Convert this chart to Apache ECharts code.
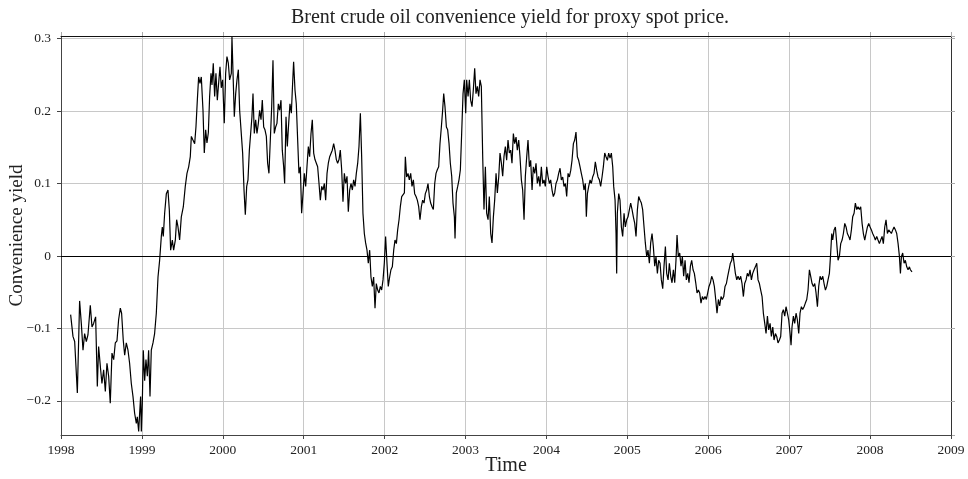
<!DOCTYPE html>
<html>
<head>
<meta charset="utf-8">
<script src="https://cdn.jsdelivr.net/npm/echarts@6/dist/echarts.min.js"></script>
<style>
  html, body { margin: 0; padding: 0; background: #fff; }
  #chart { width: 968px; height: 479px; }
</style>
</head>
<body>
<div id="chart"></div>
<script>
// Brent crude oil convenience yield (proxy spot price), sampled from the daily series
const years = [
  1998.119, 1998.148, 1998.169, 1998.202, 1998.230, 1998.251, 1998.272, 1998.292, 1998.313, 1998.333,
  1998.362, 1998.383, 1998.403, 1998.428, 1998.449, 1998.465, 1998.490, 1998.506, 1998.527, 1998.548,
  1998.568, 1998.589, 1998.609, 1998.630, 1998.651, 1998.671, 1998.692, 1998.712, 1998.733, 1998.749,
  1998.770, 1998.787, 1998.807, 1998.828, 1998.848, 1998.869, 1998.890, 1998.910, 1998.931, 1998.943,
  1998.960, 1998.972, 1998.984, 1998.993, 1999.005, 1999.017, 1999.034, 1999.050, 1999.067, 1999.083,
  1999.100, 1999.116, 1999.137, 1999.157, 1999.178, 1999.199, 1999.219, 1999.240, 1999.252, 1999.264,
  1999.281, 1999.302, 1999.322, 1999.339, 1999.355, 1999.376, 1999.392, 1999.413, 1999.429, 1999.446,
  1999.466, 1999.487, 1999.512, 1999.536, 1999.557, 1999.578, 1999.598, 1999.611, 1999.631, 1999.652,
  1999.668, 1999.685, 1999.701, 1999.718, 1999.734, 1999.755, 1999.771, 1999.788, 1999.804, 1999.821,
  1999.837, 1999.854, 1999.866, 1999.882, 1999.899, 1999.915, 1999.932, 1999.948, 1999.965, 1999.981,
  1999.998, 2000.018, 2000.035, 2000.051, 2000.068, 2000.084, 2000.105,
  2000.113, 2000.130, 2000.142, 2000.159, 2000.175, 2000.192, 2000.208, 2000.225, 2000.245, 2000.262,
  2000.278, 2000.295, 2000.311, 2000.328, 2000.344, 2000.360, 2000.373, 2000.389, 2000.406, 2000.422,
  2000.439, 2000.455, 2000.472, 2000.488, 2000.505, 2000.521, 2000.538, 2000.554, 2000.570, 2000.587,
  2000.604, 2000.620, 2000.636, 2000.653, 2000.669, 2000.686, 2000.702, 2000.719, 2000.735, 2000.752,
  2000.764, 2000.781, 2000.797, 2000.814, 2000.830, 2000.847, 2000.859, 2000.875, 2000.892, 2000.908,
  2000.925, 2000.941, 2000.958, 2000.974, 2000.991, 2001.007, 2001.024, 2001.040, 2001.057, 2001.073,
  2001.090, 2001.106, 2001.123, 2001.139, 2001.156, 2001.172, 2001.189, 2001.205, 2001.222, 2001.238,
  2001.255, 2001.271, 2001.288, 2001.304, 2001.321, 2001.337, 2001.353, 2001.370, 2001.386, 2001.403,
  2001.419, 2001.436, 2001.452, 2001.469, 2001.485, 2001.502, 2001.518, 2001.535, 2001.551, 2001.568,
  2001.584, 2001.601, 2001.617, 2001.634, 2001.650, 2001.667, 2001.683, 2001.700, 2001.716, 2001.732,
  2001.749, 2001.765, 2001.782, 2001.798, 2001.815, 2001.831, 2001.848, 2001.864, 2001.881, 2001.897,
  2001.914, 2001.930, 2001.947, 2001.963, 2001.980, 2001.996, 2002.012, 2002.029, 2002.045, 2002.062,
  2002.078, 2002.095,
  2002.112, 2002.128, 2002.145, 2002.161, 2002.178, 2002.194, 2002.211, 2002.227, 2002.244, 2002.256,
  2002.272, 2002.289, 2002.305, 2002.322, 2002.338, 2002.355, 2002.371, 2002.388, 2002.404, 2002.421,
  2002.437, 2002.454, 2002.470, 2002.487, 2002.503, 2002.520, 2002.536, 2002.553, 2002.569, 2002.586,
  2002.602, 2002.619, 2002.635, 2002.651, 2002.668, 2002.684, 2002.701, 2002.717, 2002.730, 2002.746,
  2002.763, 2002.779, 2002.796, 2002.812, 2002.829, 2002.845, 2002.862, 2002.870, 2002.886, 2002.903,
  2002.919, 2002.936, 2002.952, 2002.969, 2002.985, 2003.002, 2003.014, 2003.031, 2003.047, 2003.063,
  2003.080, 2003.096, 2003.113, 2003.129, 2003.146, 2003.162, 2003.179, 2003.195, 2003.212, 2003.228,
  2003.245, 2003.261, 2003.278, 2003.294, 2003.311, 2003.327, 2003.344, 2003.360, 2003.377, 2003.393,
  2003.410, 2003.426, 2003.443, 2003.459, 2003.475, 2003.492, 2003.508, 2003.525, 2003.541, 2003.558,
  2003.574, 2003.591, 2003.607, 2003.624, 2003.640, 2003.657, 2003.673, 2003.690, 2003.706, 2003.723,
  2003.739, 2003.756, 2003.772, 2003.789, 2003.805, 2003.822, 2003.838, 2003.855, 2003.871, 2003.887,
  2003.904, 2003.920, 2003.937, 2003.953, 2003.970, 2003.986, 2004.003, 2004.019, 2004.036, 2004.052,
  2004.069, 2004.085, 2004.102, 2004.118, 2004.135,
  2004.151, 2004.168, 2004.184, 2004.201, 2004.217, 2004.234, 2004.250, 2004.267, 2004.283, 2004.300,
  2004.316, 2004.333, 2004.349, 2004.365, 2004.382, 2004.398, 2004.415, 2004.431, 2004.448, 2004.464,
  2004.481, 2004.493, 2004.506, 2004.522, 2004.539, 2004.555, 2004.571, 2004.588, 2004.604, 2004.621,
  2004.637, 2004.654, 2004.670, 2004.687, 2004.703, 2004.720, 2004.736, 2004.753, 2004.769, 2004.786,
  2004.802, 2004.819, 2004.831, 2004.848, 2004.860, 2004.868, 2004.876, 2004.893, 2004.909, 2004.926,
  2004.942, 2004.959, 2004.975, 2004.992, 2005.008, 2005.025, 2005.041, 2005.058, 2005.074, 2005.091,
  2005.107, 2005.124, 2005.140, 2005.157, 2005.173, 2005.189, 2005.206, 2005.222, 2005.239, 2005.255,
  2005.272, 2005.288, 2005.305, 2005.321, 2005.338, 2005.354, 2005.371, 2005.387, 2005.404, 2005.420,
  2005.437, 2005.453, 2005.470, 2005.486, 2005.503, 2005.519, 2005.536, 2005.552, 2005.569, 2005.585,
  2005.601, 2005.614, 2005.630, 2005.647, 2005.663, 2005.680, 2005.696, 2005.713, 2005.729, 2005.746,
  2005.762, 2005.779, 2005.795, 2005.812, 2005.828, 2005.845, 2005.861, 2005.878, 2005.894, 2005.910,
  2005.927, 2005.943, 2005.960, 2005.976, 2005.993, 2006.009, 2006.026, 2006.042, 2006.059, 2006.075,
  2006.092, 2006.108, 2006.125, 2006.141, 2006.158, 2006.174,
  2006.191, 2006.207, 2006.224, 2006.240, 2006.257, 2006.273, 2006.290, 2006.302, 2006.319, 2006.335,
  2006.352, 2006.368, 2006.385, 2006.401, 2006.417, 2006.434, 2006.450, 2006.467, 2006.483, 2006.500,
  2006.516, 2006.533, 2006.549, 2006.566, 2006.582, 2006.599, 2006.615, 2006.632, 2006.648, 2006.665,
  2006.681, 2006.698, 2006.714, 2006.731, 2006.747, 2006.764, 2006.780, 2006.797, 2006.813, 2006.830,
  2006.846, 2006.862, 2006.879, 2006.895, 2006.912, 2006.928, 2006.945, 2006.961, 2006.978, 2006.994,
  2007.011, 2007.023, 2007.035, 2007.052, 2007.068, 2007.085, 2007.101, 2007.118, 2007.134, 2007.151,
  2007.167, 2007.184, 2007.200, 2007.217, 2007.233, 2007.250, 2007.266, 2007.283, 2007.299, 2007.316,
  2007.332, 2007.349, 2007.365, 2007.382, 2007.398, 2007.415, 2007.431, 2007.448, 2007.464, 2007.480,
  2007.497, 2007.513, 2007.526, 2007.538, 2007.555, 2007.571, 2007.588, 2007.604, 2007.621, 2007.637,
  2007.654, 2007.670, 2007.687, 2007.703, 2007.719, 2007.736, 2007.752, 2007.769, 2007.785, 2007.802,
  2007.818, 2007.835, 2007.851, 2007.868, 2007.884, 2007.901, 2007.917, 2007.934, 2007.950, 2007.967,
  2007.983, 2008.000, 2008.016, 2008.032, 2008.049, 2008.065, 2008.082, 2008.098, 2008.115, 2008.131,
  2008.148, 2008.164, 2008.181, 2008.197, 2008.214, 2008.230, 2008.247, 2008.263, 2008.280, 2008.296,
  2008.313, 2008.329, 2008.346, 2008.362, 2008.375, 2008.387, 2008.403, 2008.420, 2008.436, 2008.453,
  2008.469, 2008.486, 2008.498, 2008.518
];

const convenienceYield = [
  -0.081, -0.111, -0.118, -0.189, -0.062, -0.093, -0.130, -0.107, -0.118, -0.109,
  -0.068, -0.098, -0.093, -0.084, -0.180, -0.125, -0.157, -0.176, -0.157, -0.187,
  -0.148, -0.166, -0.203, -0.134, -0.143, -0.120, -0.117, -0.088, -0.072, -0.079,
  -0.117, -0.137, -0.120, -0.130, -0.148, -0.176, -0.194, -0.217, -0.231, -0.222,
  -0.242, -0.217, -0.194, -0.242, -0.203, -0.130, -0.172, -0.143, -0.166, -0.130,
  -0.194, -0.130, -0.120, -0.107, -0.079, -0.029, -0.006, 0.027, 0.040, 0.027,
  0.059, 0.086, 0.091, 0.063, 0.008, 0.022, 0.008, 0.022, 0.050, 0.040,
  0.022, 0.054, 0.068, 0.096, 0.114, 0.123, 0.137, 0.165, 0.160, 0.155,
  0.178, 0.215, 0.247, 0.238, 0.247, 0.201, 0.142, 0.174, 0.156, 0.170,
  0.220, 0.252, 0.236, 0.266, 0.220, 0.252, 0.215, 0.238, 0.261, 0.232,
  0.243, 0.183, 0.252, 0.275, 0.266, 0.243, 0.252,
  0.302, 0.238, 0.192, 0.224, 0.243, 0.257, 0.201, 0.174, 0.142, 0.091,
  0.057, 0.096, 0.105, 0.146, 0.169, 0.192, 0.224, 0.169, 0.188, 0.169,
  0.183, 0.201, 0.188, 0.215, 0.178, 0.174, 0.165, 0.128, 0.114, 0.160,
  0.206, 0.270, 0.169, 0.178, 0.183, 0.210, 0.201, 0.215, 0.146, 0.123,
  0.100, 0.192, 0.151, 0.183, 0.210, 0.197, 0.229, 0.268, 0.229, 0.210,
  0.160, 0.114, 0.123, 0.059, 0.086, 0.114, 0.096, 0.123, 0.151, 0.137,
  0.169, 0.188, 0.142, 0.133, 0.128, 0.123, 0.100, 0.077, 0.096, 0.091,
  0.100, 0.077, 0.114, 0.128, 0.137, 0.137, 0.146, 0.155, 0.146, 0.133,
  0.128, 0.133, 0.146, 0.119, 0.075, 0.114, 0.100, 0.110, 0.061, 0.091,
  0.100, 0.091, 0.105, 0.096, 0.114, 0.128, 0.151, 0.197, 0.137, 0.059,
  0.031, 0.018, 0.008, -0.010, 0.008, -0.029, -0.042, -0.029, -0.072, -0.038,
  -0.047, -0.051, -0.042, -0.047, -0.033, -0.010, 0.027, -0.010, -0.042, -0.029,
  -0.019, -0.015,
  0.008, 0.022, 0.017, 0.036, 0.050, 0.068, 0.082, 0.084, 0.087, 0.137,
  0.109, 0.114, 0.105, 0.114, 0.096, 0.105, 0.086, 0.082, 0.077, 0.068,
  0.050, 0.068, 0.077, 0.073, 0.086, 0.091, 0.100, 0.082, 0.073, 0.068,
  0.064, 0.100, 0.114, 0.119, 0.123, 0.155, 0.178, 0.201, 0.224, 0.206,
  0.178, 0.174, 0.155, 0.128, 0.110, 0.073, 0.054, 0.024, 0.087, 0.096,
  0.105, 0.119, 0.169, 0.224, 0.243, 0.197, 0.243, 0.220, 0.243, 0.215,
  0.206, 0.229, 0.259, 0.224, 0.234, 0.220, 0.243, 0.234, 0.137, 0.064,
  0.123, 0.059, 0.050, 0.082, 0.031, 0.018, 0.054, 0.077, 0.114, 0.087,
  0.109, 0.142, 0.128, 0.110, 0.137, 0.151, 0.132, 0.160, 0.142, 0.146,
  0.128, 0.169, 0.155, 0.164, 0.146, 0.160, 0.137, 0.105, 0.091, 0.050,
  0.110, 0.137, 0.160, 0.123, 0.132, 0.091, 0.123, 0.114, 0.128, 0.100,
  0.110, 0.096, 0.123, 0.100, 0.105, 0.096, 0.123, 0.110, 0.100, 0.105,
  0.091, 0.082, 0.087, 0.100, 0.105,
  0.114, 0.121, 0.105, 0.109, 0.096, 0.100, 0.082, 0.114, 0.109, 0.118,
  0.132, 0.155, 0.160, 0.171, 0.137, 0.132, 0.123, 0.114, 0.105, 0.091,
  0.100, 0.054, 0.086, 0.096, 0.105, 0.100, 0.109, 0.114, 0.130, 0.118,
  0.109, 0.105, 0.096, 0.109, 0.123, 0.142, 0.137, 0.132, 0.142, 0.135,
  0.142, 0.123, 0.096, 0.077, 0.031, -0.024, 0.059, 0.086, 0.077, 0.040,
  0.027, 0.059, 0.040, 0.050, 0.054, 0.064, 0.073, 0.064, 0.054, 0.045,
  0.027, 0.064, 0.082, 0.077, 0.073, 0.064, 0.040, 0.018, -0.001, 0.008,
  -0.010, 0.018, 0.031, 0.013, -0.014, -0.001, -0.024, -0.006, -0.010, -0.033,
  -0.045, -0.014, 0.013, -0.024, -0.033, -0.010, -0.028, -0.037, -0.019, -0.037,
  -0.006, 0.029, -0.001, 0.004, -0.014, -0.001, -0.028, -0.006, -0.033, -0.024,
  -0.037, -0.014, -0.006, -0.019, -0.024, -0.037, -0.051, -0.047, -0.051, -0.065,
  -0.056, -0.060, -0.056, -0.060, -0.051, -0.042, -0.037, -0.028, -0.033, -0.042,
  -0.060, -0.079, -0.060, -0.069, -0.056, -0.060,
  -0.056, -0.042, -0.038, -0.028, -0.019, -0.010, -0.006, 0.004, -0.010, -0.024,
  -0.033, -0.028, -0.033, -0.028, -0.038, -0.056, -0.038, -0.033, -0.024, -0.028,
  -0.019, -0.033, -0.024, -0.019, -0.015, -0.010, -0.033, -0.038, -0.047, -0.056,
  -0.079, -0.093, -0.107, -0.083, -0.102, -0.093, -0.111, -0.098, -0.116, -0.107,
  -0.111, -0.120, -0.116, -0.111, -0.079, -0.074, -0.083, -0.070, -0.079, -0.088,
  -0.107, -0.123, -0.098, -0.083, -0.093, -0.079, -0.088, -0.107, -0.079, -0.070,
  -0.074, -0.070, -0.065, -0.060, -0.047, -0.019, -0.028, -0.038, -0.042, -0.038,
  -0.051, -0.070, -0.042, -0.028, -0.033, -0.028, -0.038, -0.047, -0.042, -0.033,
  -0.024, 0.004, 0.031, 0.022, 0.036, 0.040, 0.017, -0.006, 0.000, 0.017,
  0.022, 0.031, 0.045, 0.040, 0.031, 0.027, 0.022, 0.036, 0.054, 0.059,
  0.073, 0.064, 0.068, 0.064, 0.068, 0.045, 0.031, 0.022, 0.031, 0.040,
  0.045, 0.040, 0.036, 0.031, 0.027, 0.022, 0.027, 0.022, 0.017, 0.022,
  0.027, 0.017, 0.040, 0.050, 0.031, 0.036, 0.036, 0.031, 0.036, 0.040,
  0.036, 0.031, 0.017, 0.000, -0.024, -0.001, 0.004, -0.010, -0.006, -0.015,
  -0.019, -0.015, -0.019, -0.022
];

const yearTicks = { min: 1998, max: 2009, step: 1 };
const yieldRange = { min: -0.247, max: 0.3035 };

const points = years.map((y, i) => [y, convenienceYield[i]]);

const serif = '"Liberation Serif", "DejaVu Serif", serif';
const gridColor = '#c8c8c8';

function yLabel(v) {
  const r = Math.round(v * 10);
  if (Math.abs(v * 10 - r) > 1e-6) return '';
  if (r === 0) return '0';
  return (r < 0 ? '\u2212' : '') + (Math.abs(r) / 10).toFixed(1);
}

const chart = echarts.init(document.getElementById('chart'), null, { renderer: 'canvas' });

chart.setOption({
  backgroundColor: '#ffffff',
  animation: false,
  title: {
    text: 'Brent crude oil convenience yield for proxy spot price.',
    left: 505,
    textAlign: 'center',
    top: 3,
    textStyle: { fontFamily: serif, fontSize: 20, fontWeight: 'normal', color: '#222' }
  },
  grid: { left: 61, right: 17, top: 36, bottom: 44, containLabel: false, outerBoundsMode: 'none' },
  xAxis: [
    {
      type: 'value',
      position: 'bottom',
      min: yearTicks.min,
      max: yearTicks.max,
      interval: yearTicks.step,
      name: 'Time',
      nameLocation: 'middle',
      nameGap: 21,
      nameMoveOverlap: false,
      nameTextStyle: { fontFamily: serif, fontSize: 20, color: '#222' },
      axisLine: { show: true, onZero: false, lineStyle: { color: '#444', width: 1 } },
      axisTick: { show: true, inside: false, length: 4, lineStyle: { color: '#444' } },
      axisLabel: { fontFamily: serif, fontSize: 13.5, color: '#222', margin: 8,
                   formatter: v => String(Math.round(v)) },
      splitLine: { show: true, lineStyle: { color: gridColor, width: 1 } }
    },
    {
      type: 'value',
      position: 'top',
      min: yearTicks.min,
      max: yearTicks.max,
      interval: yearTicks.step,
      axisLine: { show: true, onZero: false, lineStyle: { color: '#111', width: 1 } },
      axisTick: { show: true, inside: false, length: 4, lineStyle: { color: '#aaa' } },
      axisLabel: { show: false },
      splitLine: { show: false }
    }
  ],
  yAxis: [
    {
      type: 'value',
      position: 'left',
      min: yieldRange.min,
      max: yieldRange.max,
      splitNumber: 5,
      name: 'Convenience yield',
      nameLocation: 'middle',
      nameGap: 34,
      nameMoveOverlap: false,
      nameTextStyle: { fontFamily: serif, fontSize: 19, color: '#222' },
      axisLine: { show: true, onZero: false, lineStyle: { color: '#444', width: 1 } },
      axisTick: { show: true, inside: false, length: 4, lineStyle: { color: '#444' } },
      axisLabel: { fontFamily: serif, fontSize: 13.5, color: '#222', margin: 10,
                   formatter: yLabel, showMinLabel: false, showMaxLabel: false },
      splitLine: { show: true, lineStyle: { color: gridColor, width: 1 } }
    },
    {
      type: 'value',
      position: 'right',
      min: yieldRange.min,
      max: yieldRange.max,
      splitNumber: 5,
      axisLine: { show: true, onZero: false, lineStyle: { color: '#333', width: 1 } },
      axisTick: { show: true, inside: false, length: 4, lineStyle: { color: '#aaa' } },
      axisLabel: { show: false },
      splitLine: { show: false }
    }
  ],
  series: [
    {
      type: 'line',
      xAxisIndex: 0,
      yAxisIndex: 0,
      data: points,
      showSymbol: false,
      symbol: 'none',
      lineStyle: { color: '#000', width: 1.2 },
      markLine: {
        silent: true,
        symbol: ['none', 'none'],
        label: { show: false },
        lineStyle: { color: '#000', width: 1, type: 'solid' },
        data: [{ yAxis: 0 }]
      },
      z: 3
    }
  ]
});
</script>
</body>
</html>
